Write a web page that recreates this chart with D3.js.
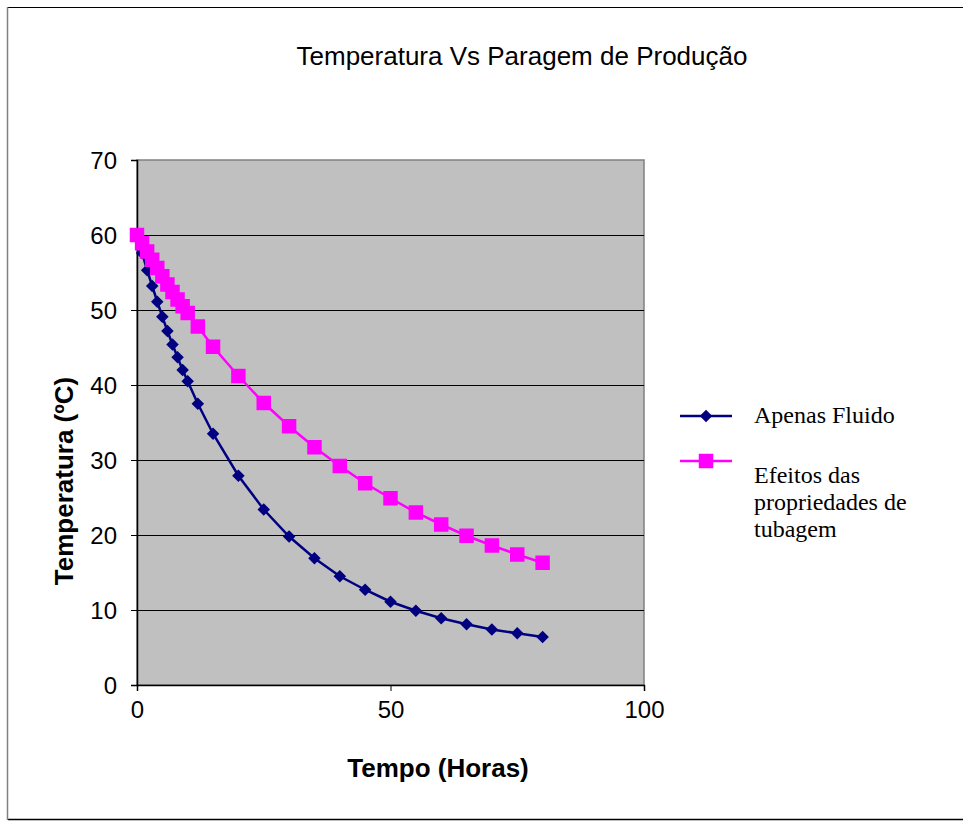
<!DOCTYPE html>
<html>
<head>
<meta charset="utf-8">
<script src="https://cdn.jsdelivr.net/npm/d3@7"></script>
<style>
  html, body { margin: 0; padding: 0; background: #fff; }
  svg { display: block; }
</style>
</head>
<body>
<svg id="chart" width="963" height="821"></svg>
<script>
// Cooling of the production line after a stop: time (hours) vs temperature (ºC)
const fluidHours = [0, 1, 2, 3, 4, 5, 6, 7, 8, 9, 10, 12, 15, 20, 25, 30, 35, 40, 45, 50, 55, 60, 65, 70, 75, 80];
const fluidTemps = [60, 57.6, 55.3, 53.2, 51.1, 49.1, 47.2, 45.4, 43.7, 42.0, 40.5, 37.5, 33.5, 27.9, 23.4, 19.8, 16.9, 14.5, 12.7, 11.1, 9.9, 8.9, 8.1, 7.4, 6.9, 6.4];

const pipeHours = [0, 1, 2, 3, 4, 5, 6, 7, 8, 9, 10, 12, 15, 20, 25, 30, 35, 40, 45, 50, 55, 60, 65, 70, 75, 80];
const pipeTemps = [60, 58.9, 57.8, 56.7, 55.6, 54.5, 53.4, 52.4, 51.4, 50.5, 49.6, 47.8, 45.1, 41.2, 37.6, 34.5, 31.7, 29.2, 26.9, 24.9, 23.0, 21.4, 19.9, 18.6, 17.4, 16.3];

const xTicks = [0, 50, 100];
const yTicks = [0, 10, 20, 30, 40, 50, 60, 70];

const seriesNames = ["Apenas Fluido", ["Efeitos das", "propriedades de", "tubagem"]];
const titleText = "Temperatura Vs Paragem de Produção";
const xLabel = "Tempo (Horas)";
const yLabel = "Temperatura (ºC)";

const svg = d3.select("#chart");
const W = 963, H = 821;
const plot = { left: 137, top: 160, right: 644, bottom: 685 };
const sans = "Arial, 'Liberation Sans', sans-serif";
const serif = "'Times New Roman', 'Liberation Serif', serif";

// chart frame
svg.append("line").attr("x1", 8).attr("x2", W).attr("y1", 7.5).attr("y2", 7.5)
  .attr("stroke", "#000").attr("stroke-width", 1);
svg.append("line").attr("x1", 8).attr("x2", W).attr("y1", 819.5).attr("y2", 819.5)
  .attr("stroke", "#000").attr("stroke-width", 1.5);
svg.append("line").attr("x1", 7.5).attr("x2", 7.5).attr("y1", 7).attr("y2", 820)
  .attr("stroke", "#808080").attr("stroke-width", 1.5);

const x = d3.scaleLinear().domain([0, 100]).range([plot.left, plot.right]);
const y = d3.scaleLinear().domain([0, 70]).range([plot.bottom, plot.top]);

// plot area
svg.append("rect")
  .attr("x", plot.left).attr("y", plot.top)
  .attr("width", plot.right - plot.left).attr("height", plot.bottom - plot.top)
  .attr("fill", "#C0C0C0").attr("stroke", "#808080").attr("stroke-width", 1.5);

// horizontal gridlines
svg.append("g").selectAll("line")
  .data(yTicks.filter(t => t > 0 && t < 70))
  .join("line")
  .attr("x1", plot.left).attr("x2", plot.right)
  .attr("y1", d => Math.round(y(d)) + 0.5).attr("y2", d => Math.round(y(d)) + 0.5)
  .attr("stroke", "#000").attr("stroke-width", 1);

// axes
const yAxis = d3.axisLeft(y).tickValues(yTicks).tickSize(6).tickPadding(14);
const gy = svg.append("g").attr("transform", `translate(${plot.left},0)`).call(yAxis);
gy.select(".domain").attr("stroke", "#000").attr("stroke-width", 1.5);
gy.selectAll(".tick line").attr("stroke", "#000");
gy.selectAll(".tick text").attr("font-family", sans)
  .attr("font-size", 24).attr("fill", "#000").attr("dy", "0.36em");

const xAxis = d3.axisBottom(x).tickValues(xTicks).tickSize(6).tickPadding(10);
const gx = svg.append("g").attr("transform", `translate(0,${plot.bottom})`).call(xAxis);
gx.select(".domain").attr("stroke", "#000").attr("stroke-width", 1.5);
gx.selectAll(".tick line").attr("stroke", "#000");
gx.selectAll(".tick text").attr("font-family", sans)
  .attr("font-size", 24).attr("fill", "#000");

// title and axis labels
svg.append("text").attr("x", 522).attr("y", 65).attr("text-anchor", "middle")
  .attr("font-family", sans).attr("font-size", 26)
  .text(titleText);
svg.append("text").attr("x", 438).attr("y", 777).attr("text-anchor", "middle")
  .attr("font-family", sans).attr("font-size", 26)
  .attr("font-weight", "bold").text(xLabel);
svg.append("text").attr("transform", "translate(73,481) rotate(-90)").attr("text-anchor", "middle")
  .attr("font-family", sans).attr("font-size", 26)
  .attr("font-weight", "bold").text(yLabel);

// series
const line = d3.line().x(d => x(d[0])).y(d => y(d[1]));
const fluid = fluidHours.map((h, i) => [h, fluidTemps[i]]);
const pipe = pipeHours.map((h, i) => [h, pipeTemps[i]]);

const navy = "#000080", magenta = "#FF00FF";
const diamond = d3.symbol().type(d3.symbolDiamond2).size(100);
const square = d3.symbol().type(d3.symbolSquare).size(210);

svg.append("path").datum(fluid).attr("d", line)
  .attr("fill", "none").attr("stroke", navy).attr("stroke-width", 2.5);
svg.append("g").selectAll("path").data(fluid).join("path")
  .attr("transform", d => `translate(${x(d[0])},${y(d[1])})`)
  .attr("d", diamond).attr("fill", navy);

svg.append("path").datum(pipe).attr("d", line)
  .attr("fill", "none").attr("stroke", magenta).attr("stroke-width", 2.5);
svg.append("g").selectAll("path").data(pipe).join("path")
  .attr("transform", d => `translate(${x(d[0])},${y(d[1])})`)
  .attr("d", square).attr("fill", magenta);

// legend
const legend = svg.append("g").attr("font-family", serif)
  .attr("font-size", 24).attr("fill", "#000");
legend.append("line").attr("x1", 680).attr("x2", 732).attr("y1", 416).attr("y2", 416)
  .attr("stroke", navy).attr("stroke-width", 2.5);
legend.append("path").attr("transform", "translate(706,416)").attr("d", diamond).attr("fill", navy);
legend.append("text").attr("x", 754).attr("y", 423).text(seriesNames[0]);

legend.append("line").attr("x1", 680).attr("x2", 732).attr("y1", 461).attr("y2", 461)
  .attr("stroke", magenta).attr("stroke-width", 2.5);
legend.append("path").attr("transform", "translate(706,461)").attr("d", square).attr("fill", magenta);
seriesNames[1].forEach((s, i) => {
  legend.append("text").attr("x", 754).attr("y", 483 + i * 27).text(s);
});
</script>
</body>
</html>
